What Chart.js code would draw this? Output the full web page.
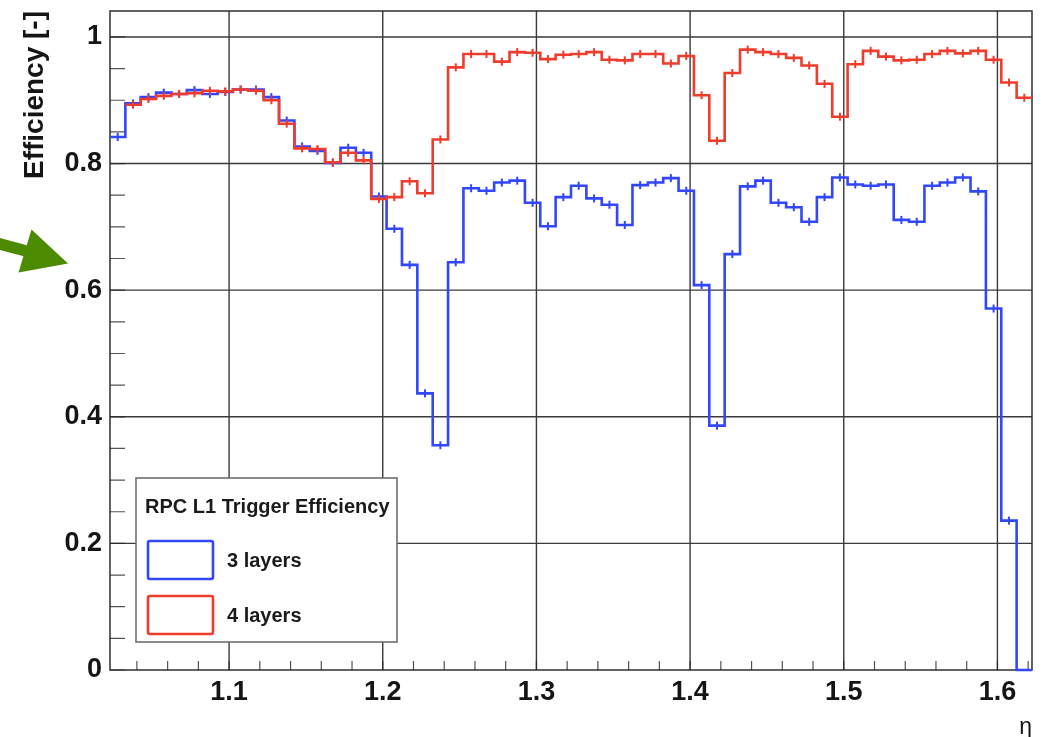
<!DOCTYPE html>
<html>
<head>
<meta charset="utf-8">
<script src="https://cdn.jsdelivr.net/npm/chart.js@4.4.1/dist/chart.umd.min.js"></script>
<style>
  html, body { margin: 0; padding: 0; background: #ffffff; }
  #wrap { width: 1044px; height: 737px; }
</style>
</head>
<body>
<div id="wrap"><canvas id="effChart" width="1044" height="737"></canvas></div>
<script>
// Binning in eta: 60 bins of width 0.01
const etaLow = 1.0225;
const etaHigh = 1.6225;
const binWidth = 0.01;

// Axis tick labels
const etaTicks = [1.1, 1.2, 1.3, 1.4, 1.5, 1.6];
const effTicks = [0, 0.2, 0.4, 0.6, 0.8, 1];

// Trigger efficiency per eta bin
const eff3Layers = [
  0.842, 0.895, 0.905, 0.912, 0.910, 0.916, 0.910, 0.913, 0.917, 0.917,
  0.905, 0.868, 0.827, 0.820, 0.801, 0.825, 0.817, 0.748, 0.697, 0.640,
  0.437, 0.355, 0.644, 0.761, 0.757, 0.770, 0.773, 0.738, 0.701, 0.747,
  0.765, 0.745, 0.735, 0.703, 0.766, 0.770, 0.777, 0.757, 0.608, 0.386,
  0.657, 0.764, 0.773, 0.738, 0.731, 0.708, 0.747, 0.778, 0.767, 0.765,
  0.767, 0.711, 0.708, 0.765, 0.770, 0.778, 0.756, 0.571, 0.236, 0.000
];
const eff4Layers = [
  null,  0.893, 0.902, 0.907, 0.910, 0.911, 0.915, 0.914, 0.917, 0.915,
  0.900, 0.863, 0.824, 0.823, 0.802, 0.817, 0.805, 0.744, 0.747, 0.772,
  0.753, 0.838, 0.952, 0.973, 0.973, 0.961, 0.976, 0.975, 0.965, 0.972,
  0.973, 0.976, 0.964, 0.963, 0.973, 0.973, 0.958, 0.970, 0.908, 0.836,
  0.943, 0.980, 0.976, 0.973, 0.967, 0.955, 0.926, 0.874, 0.957, 0.978,
  0.969, 0.963, 0.964, 0.973, 0.978, 0.974, 0.978, 0.964, 0.928, 0.904
];

const seriesLabels = ['3 layers', '4 layers'];
const legendTitle = 'RPC L1 Trigger Efficiency';

const BLUE = '#3246fb';
const RED = '#ee3c2d';
const FONT = "'Liberation Sans', Arial, Helvetica, sans-serif";

// Bin edges and centres
const binEdges = [];
for (let i = 0; i <= eff3Layers.length; i++) binEdges.push(+(etaLow + i * binWidth).toFixed(4));
const binCentres = eff3Layers.map((_, i) => +(binEdges[i] + binWidth / 2).toFixed(4));

// Step outline: one point per lower edge, closing point at the upper edge
function histPoints(vals) {
  return binEdges.map((x, i) => ({ x, y: vals[Math.min(i, vals.length - 1)] }));
}
function markerPoints(vals, skipZero) {
  return binCentres.map((x, i) => ({ x, y: vals[i] }))
    .filter(p => p.y !== null && !(skipZero && p.y === 0));
}

const histStyle = (color) => ({
  type: 'line', stepped: true, borderColor: color, borderWidth: 2.6,
  pointRadius: 0, fill: false, tension: 0, spanGaps: false, clip: 4
});
const markerStyle = (color) => ({
  type: 'scatter', showLine: false, pointStyle: 'line', rotation: 90,
  pointRadius: 4, borderColor: color, backgroundColor: color, borderWidth: 2
});

// Grid, minor ticks and frame
const etaMinorStep = 0.02;
const effMinorStep = 0.05;
const axisFrame = {
  id: 'axisFrame',
  beforeDatasetsDraw(chart) {
    const { ctx, chartArea: a, scales: { x, y } } = chart;
    ctx.save();
    ctx.strokeStyle = 'rgba(25,25,25,0.85)';
    ctx.lineWidth = 1.4;
    ctx.beginPath();
    etaTicks.forEach(v => {
      const px = x.getPixelForValue(v);
      ctx.moveTo(px, a.top); ctx.lineTo(px, a.bottom);
    });
    effTicks.forEach(v => {
      if (v <= 0) return;
      const py = y.getPixelForValue(v);
      ctx.moveTo(a.left, py); ctx.lineTo(a.right, py);
    });
    ctx.stroke();

    ctx.strokeStyle = 'rgba(40,40,40,0.8)';
    ctx.lineWidth = 1.2;
    ctx.beginPath();
    for (let k = Math.ceil(x.min / etaMinorStep); k * etaMinorStep <= x.max; k++) {
      const px = x.getPixelForValue(k * etaMinorStep);
      ctx.moveTo(px, a.bottom); ctx.lineTo(px, a.bottom - 9);
    }
    for (let k = 0; k * effMinorStep <= y.max; k++) {
      const py = y.getPixelForValue(k * effMinorStep);
      ctx.moveTo(a.left, py); ctx.lineTo(a.left + 15, py);
    }
    ctx.stroke();

    ctx.strokeStyle = 'rgba(40,40,40,0.9)';
    ctx.lineWidth = 1.6;
    ctx.strokeRect(a.left, a.top, a.right - a.left, a.bottom - a.top);
    ctx.restore();
  }
};

// Boxed legend in the lower left of the frame
const boxLegend = {
  id: 'boxLegend',
  afterDraw(chart) {
    const { ctx } = chart;
    const hists = chart.data.datasets.filter(d => d.type === 'line');
    const entries = seriesLabels.map(l => hists.find(d => d.label === l));
    ctx.save();
    ctx.fillStyle = '#ffffff';
    ctx.fillRect(136, 478, 261, 164);
    ctx.strokeStyle = '#6e6e6e';
    ctx.lineWidth = 1.6;
    ctx.strokeRect(136, 478, 261, 164);
    ctx.fillStyle = '#1a1a1a';
    ctx.font = `bold 20px ${FONT}`;
    ctx.textBaseline = 'alphabetic';
    ctx.fillText(legendTitle, 145, 513);
    entries.forEach((d, i) => {
      const top = 541 + i * 55;
      ctx.strokeStyle = d.borderColor;
      ctx.lineWidth = 2.6;
      ctx.beginPath();
      ctx.roundRect(148, top, 65, 38, 2);
      ctx.stroke();
      ctx.fillStyle = '#1a1a1a';
      ctx.font = `bold 20px ${FONT}`;
      ctx.textBaseline = 'middle';
      ctx.fillText(d.label, 227, top + 20);
    });
    ctx.restore();
  }
};

// Green pointer arrow at the left margin
const pointerArrow = {
  id: 'pointerArrow',
  afterDraw(chart) {
    const { ctx } = chart;
    ctx.save();
    ctx.fillStyle = '#4c8a00';
    ctx.strokeStyle = '#4c8a00';
    ctx.lineWidth = 11.5;
    ctx.beginPath();
    ctx.moveTo(-4, 243);
    ctx.lineTo(28, 251.5);
    ctx.stroke();
    ctx.beginPath();
    ctx.moveTo(31.5, 229.5);
    ctx.lineTo(68, 263.5);
    ctx.lineTo(18.5, 272.5);
    ctx.closePath();
    ctx.fill();
    ctx.restore();
  }
};

const ctx = document.getElementById('effChart').getContext('2d');
new Chart(ctx, {
  type: 'line',
  data: {
    datasets: [
      Object.assign({ label: seriesLabels[1], data: histPoints(eff4Layers) }, histStyle(RED)),
      Object.assign({ label: seriesLabels[1] + ' points', data: markerPoints(eff4Layers, false) }, markerStyle(RED)),
      Object.assign({ label: seriesLabels[0], data: histPoints(eff3Layers) }, histStyle(BLUE)),
      Object.assign({ label: seriesLabels[0] + ' points', data: markerPoints(eff3Layers, true) }, markerStyle(BLUE))
    ]
  },
  options: {
    responsive: false,
    animation: false,
    devicePixelRatio: 1,
    layout: { padding: { left: 0, top: 11, right: 12, bottom: 0 } },
    plugins: { legend: { display: false }, tooltip: { enabled: false } },
    scales: {
      x: {
        type: 'linear', min: etaLow, max: etaHigh,
        grid: { display: false, drawTicks: false }, border: { display: false },
        afterBuildTicks: s => { s.ticks = etaTicks.map(v => ({ value: v })); },
        afterFit: s => { s.height = 67; s.paddingLeft = 0; s.paddingRight = 0; s.paddingTop = 0; s.paddingBottom = 0; },
        ticks: {
          autoSkip: false, maxRotation: 0, padding: 6, color: '#151515',
          font: { family: FONT, size: 27, weight: 'bold' },
          callback: v => v.toFixed(1)
        },
        title: {
          display: true, text: 'η', align: 'end', color: '#151515',
          font: { family: FONT, size: 23 }, padding: { top: 0, bottom: -4 }
        }
      },
      y: {
        type: 'linear', min: 0, max: 1.041,
        grid: { display: false, drawTicks: false }, border: { display: false },
        afterBuildTicks: s => { s.ticks = effTicks.map(v => ({ value: v })); },
        afterFit: s => { s.width = 110; s.paddingLeft = 0; s.paddingRight = 0; s.paddingTop = 0; s.paddingBottom = 0; },
        ticks: {
          padding: 8, color: '#151515',
          font: { family: FONT, size: 27, weight: 'bold' },
          callback: v => String(+v.toFixed(1))
        },
        title: {
          display: true, text: 'Efficiency [-]', align: 'end', color: '#151515',
          font: { family: FONT, size: 28, weight: 'bold' }, padding: { top: 18, bottom: 0 }
        }
      }
    }
  },
  plugins: [axisFrame, boxLegend, pointerArrow]
});
</script>
</body>
</html>
